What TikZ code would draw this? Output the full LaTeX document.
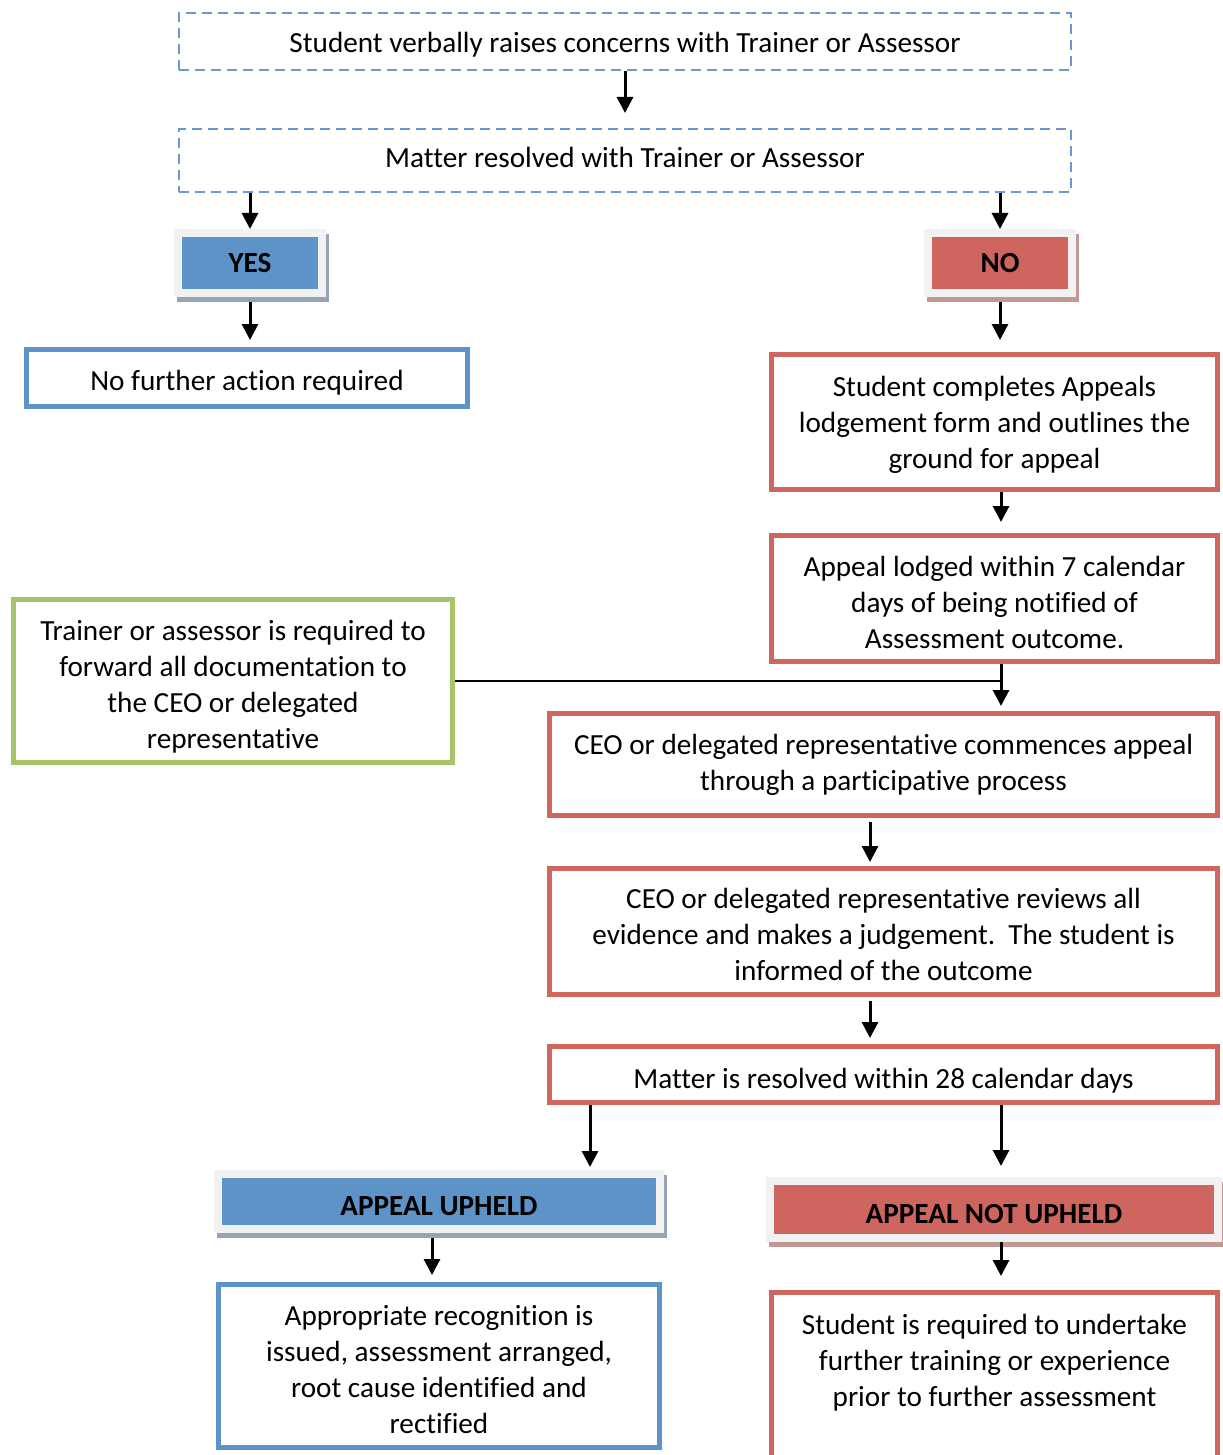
\documentclass[tikz,border=0pt]{standalone}
\usepackage{fontspec}
\setmainfont{Carlito}[Ligatures=CommonOff]
\usetikzlibrary{arrows.meta}
\definecolor{dashblue}{RGB}{104,152,206}
\definecolor{boxblue}{RGB}{94,147,200}
\definecolor{boxred}{RGB}{206,102,95}
\definecolor{boxgreen}{RGB}{168,196,106}
\definecolor{framegray}{RGB}{242,242,242}
\definecolor{shadeblue}{RGB}{149,165,184}
\definecolor{shadered}{RGB}{192,152,150}
\newcommand{\boxstrut}[1]{\rule{0pt}{#1}}
\begin{document}
\begin{tikzpicture}[x=0.5pt,y=-0.5pt,font=\fontsize{14.6}{18}\selectfont,
		arr/.style={-{Triangle[width=8pt,length=8pt]},line width=1.5pt},
		dashbox/.style={draw=dashblue,line width=1pt,dash pattern=on 5pt off 3pt,minimum width=446pt,align=center,inner sep=0pt},
		bluebox/.style={draw=boxblue,line width=2.5pt,align=center,inner sep=0pt},
		redbox/.style={draw=boxred,line width=2.5pt,align=center,inner sep=0pt},
		greenbox/.style={draw=boxgreen,line width=2.5pt,align=center,inner sep=0pt},
		tagbox/.style={draw=framegray,fill=#1,line width=4pt,inner sep=0pt,font=\fontsize{14.6}{18}\selectfont\bfseries},
		bluetag/.style={tagbox=boxblue,preaction={draw=shadeblue,fill=shadeblue,line width=4pt,transform canvas={xshift=1.5pt,yshift=-2.5pt}}},
		redtag/.style={tagbox=boxred,preaction={draw=shadered,fill=shadered,line width=4pt,transform canvas={xshift=1.5pt,yshift=-2.5pt}}}]
	\useasboundingbox (0,0) rectangle (1222,1455);
	\node[dashbox,minimum height=28.5pt] (concern) at (625,41.5) {\boxstrut{13pt}Student verbally raises concerns with Trainer or Assessor};
	\node[dashbox,minimum height=31.5pt,text depth=3pt] (resolved) at (625,160.5) {Matter resolved with Trainer or Assessor};
	\node[bluetag,minimum width=72pt,minimum height=30pt] (yes) at (250,263) {YES};
	\node[redtag,minimum width=72pt,minimum height=30pt] (no) at (1000,263) {NO};
	\node[bluebox,minimum width=220.5pt,minimum height=28.5pt] (nofurther) at (247,378) {\boxstrut{15pt}No further action required};
	\node[redbox,minimum width=223pt,minimum height=67.5pt] (lodge) at (994.5,422) {\boxstrut{13pt}Student completes Appeals\\lodgement form and outlines the\\ground for appeal};
	\node[redbox,minimum width=223pt,minimum height=63pt] (within) at (994.5,598.5) {\boxstrut{14pt}Appeal lodged within 7 calendar\\days of being notified of\\Assessment outcome.};
	\node[greenbox,minimum width=219.5pt,minimum height=81.5pt] (forward) at (233,681) {\boxstrut{16pt}Trainer or assessor is required to\\forward all documentation to\\the CEO or delegated\\representative};
	\node[redbox,minimum width=334pt,minimum height=51pt] (commence) at (883.5,764.5) {CEO or delegated representative commences appeal\\through a participative process};
	\node[redbox,minimum width=334pt,minimum height=63pt] (review) at (883.5,931.5) {\boxstrut{13pt}CEO or delegated representative reviews all\\evidence and makes a judgement.\ \ The student is\\informed of the outcome};
	\node[redbox,minimum width=334pt,minimum height=28pt] (matter) at (883.5,1074.5) {\boxstrut{16pt}Matter is resolved within 28 calendar days};
	\node[bluetag,minimum width=221pt,minimum height=27.5pt] (upheld) at (439,1201.5) {\boxstrut{14.4pt}APPEAL UPHELD};
	\node[redtag,minimum width=224pt,minimum height=28.5pt] (notupheld) at (994,1209.5) {\boxstrut{14.4pt}APPEAL NOT UPHELD};
	\node[bluebox,minimum width=220.5pt,minimum height=81.5pt] (recog) at (439,1366) {\boxstrut{13.8pt}Appropriate recognition is\\issued, assessment arranged,\\root cause identified and\\rectified};
	\node[redbox,minimum width=223pt,minimum height=82.5pt,text depth=19pt] (further) at (994.5,1375) {\boxstrut{14pt}Student is required to undertake\\further training or experience\\prior to further assessment};
	\coordinate (rx) at (1001,0);
	\coordinate (mx) at (870,0);
	\coordinate (ux) at (590,0);
	\coordinate (lx) at (432,0);
	\coordinate (join) at (1001,681);
	\draw[arr,shorten >=7.5pt] (concern) -- (resolved);
	\draw[arr] (resolved.south -| yes) -- (yes);
	\draw[arr] (resolved.south -| no) -- (no);
	\draw[arr,shorten <=2.5pt,shorten >=3.5pt] (yes.south) -- (yes.south |- nofurther.north);
	\draw[arr,shorten <=2.5pt,shorten >=6pt] (no.south) -- (no.south |- lodge.north);
	\draw[arr,shorten >=5.5pt] (lodge.south -| rx) -- (within.north -| rx);
	\draw[line width=1.2pt] (forward.east) -- (join);
	\draw[arr,shorten >=2.5pt] (within.south -| join) -- (commence.north -| join);
	\draw[arr,shorten <=2pt,shorten >=2pt] (commence.south -| mx) -- (review.north -| mx);
	\draw[arr,shorten <=2pt,shorten >=3pt] (review.south -| mx) -- (matter.north -| mx);
	\draw[arr,shorten >=1.5pt] (matter.south -| ux) -- (upheld.north -| ux);
	\draw[arr,shorten >=5.5pt] (matter.south -| rx) -- (notupheld.north -| rx);
	\draw[arr,shorten <=2.5pt,shorten >=3.5pt] (upheld.south -| lx) -- (recog.north -| lx);
	\draw[arr,shorten >=7pt] (notupheld.south -| rx) -- (further.north -| rx);
\end{tikzpicture}
\end{document}
